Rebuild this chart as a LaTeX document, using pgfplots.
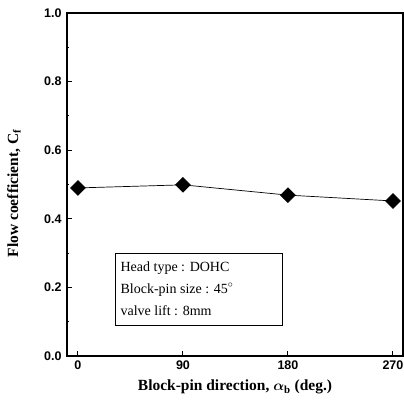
\documentclass[border=0pt]{standalone}
\usepackage{fontspec}
\setmainfont{Liberation Serif}
\newfontfamily\tickfont{Liberation Sans}
\usepackage{amsmath}
\usepackage{pgfplots}
\pgfplotsset{compat=1.18}
\begin{document}
\begin{tikzpicture}
\begin{axis}[name=ax,
  scale only axis, width=336pt, height=343pt,
  xmin=-9.4, xmax=278.6, ymin=0, ymax=1.0,
  xtick={0,90,180,270}, ytick={0,0.2,0.4,0.6,0.8,1.0},
  minor y tick num=1,
  xtick pos=left, ytick pos=left,
  tick align=inside,
  major tick length=5pt, minor tick length=2.5pt,
  axis line style={line width=1.3pt},
  every tick/.style={black, line width=1pt},
  /pgf/number format/assume math mode=true,
  yticklabel style={/pgf/number format/fixed, /pgf/number format/fixed zerofill, /pgf/number format/precision=1, font=\tickfont\bfseries\fontsize{12.5}{13}\selectfont, xshift=-2pt},
  xticklabel style={font=\tickfont\bfseries\fontsize{12.5}{13}\selectfont, yshift=-1pt},
  xlabel={\textbf{Block-pin direction, $\boldsymbol{\alpha}_{\mathbf{b}}$ (deg.)}},
  ylabel={\textbf{Flow coefficient, C$_{\mathbf{f}}$}},
  label style={font=\fontsize{15.5}{16}\selectfont},
  xlabel style={at={(axis description cs:0.5,-0.0904)}, anchor=center},
  ylabel style={at={(axis description cs:-0.158,0.474)}, anchor=center},
]
\addplot[black, line width=0.7pt, mark=square*, mark options={rotate=45, fill=black}, mark size=5.2pt]
  coordinates {(0,0.490) (90,0.499) (180,0.469) (270,0.452)};
\draw[line width=1pt, fill=white] (axis cs:32.6,0.09) rectangle (axis cs:175.7,0.300);
\node[anchor=north west, align=left, font=\fontsize{14}{22}\selectfont] at (axis cs:33.5,0.286)
  {Head type : DOHC\\Block-pin size : 45$^\circ$\\valve lift : 8mm};
\end{axis}
\pgfresetboundingbox
\path ([shift={(-67pt,-49pt)}]ax.south west) rectangle ([shift={(1pt,13pt)}]ax.north east);
\end{tikzpicture}
\end{document}
